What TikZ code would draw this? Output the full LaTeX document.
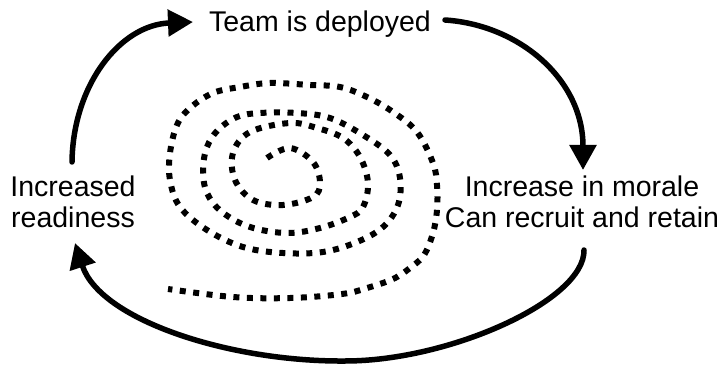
\documentclass[tikz,border=0pt]{standalone}
\usepackage{fontspec}
\setmainfont{Liberation Sans}
\usetikzlibrary{arrows.meta}

\begin{document}
\begin{tikzpicture}[line cap=round,line join=round,>={Triangle[length=25pt,width=26pt]},x=1pt,y=-1pt]
	\useasboundingbox (0,0) rectangle (722,366);
	\tikzset{lbl/.style={inner sep=0pt,align=center,font=\fontsize{28.5}{31}\selectfont},
		cyclearrow/.style={line width=5.5pt,->},
		spiraldots/.style={line width=6pt,line cap=butt,dash pattern=on 6pt off 7.5pt}}
	\node[lbl,anchor=base] (team) at (320,32) {Team is deployed};
	\node[lbl] (ready) at (73,202) {Increased\\readiness};
	\node[lbl] (morale) at (582,202) {Increase in morale\\Can recruit and retain};
	\coordinate (readytop) at (72,162);
	\coordinate (readybot) at (75,243);
	\coordinate (teamleft) at (193,22);
	\coordinate (teamright) at (445,20);
	\coordinate (moraletop) at (583,170);
	\coordinate (moralebot) at (584,250);
	\draw[cyclearrow] (readytop) .. controls (73,85) and (120,25) .. (teamleft);
	\draw[cyclearrow] (teamright) .. controls (520,25) and (583,80) .. (moraletop);
	\draw[cyclearrow] (moralebot) .. controls (585,300) and (450,361) .. (345,361) .. controls (230,362) and (100,320) .. (readybot);
	\draw[spiraldots] plot[smooth,tension=0.6] coordinates {(267,158) (290,148) (313,162) (320,183) (313,197) (283,205) (253,200) (235,180) (233,153) (250,132) (290,123) (317,128) (343,138) (360,157) (368,183) (363,207) (350,217) (320,228) (287,233) (250,227) (222,212) (207,193) (203,170) (207,147) (218,130) (237,117) (260,113) (297,113) (330,118) (363,135) (390,155) (400,178) (398,205) (383,227) (357,242) (323,252) (283,253) (243,247) (207,230) (180,207) (170,180) (170,153) (177,125) (190,108) (213,93) (240,87) (270,83) (310,85) (340,87) (367,97) (393,112) (417,132) (433,163) (437,185) (437,210) (433,233) (424,255) (410,268) (393,279) (367,288) (342,294) (290,298) (233,297) (168,289)};
\end{tikzpicture}
\end{document}
